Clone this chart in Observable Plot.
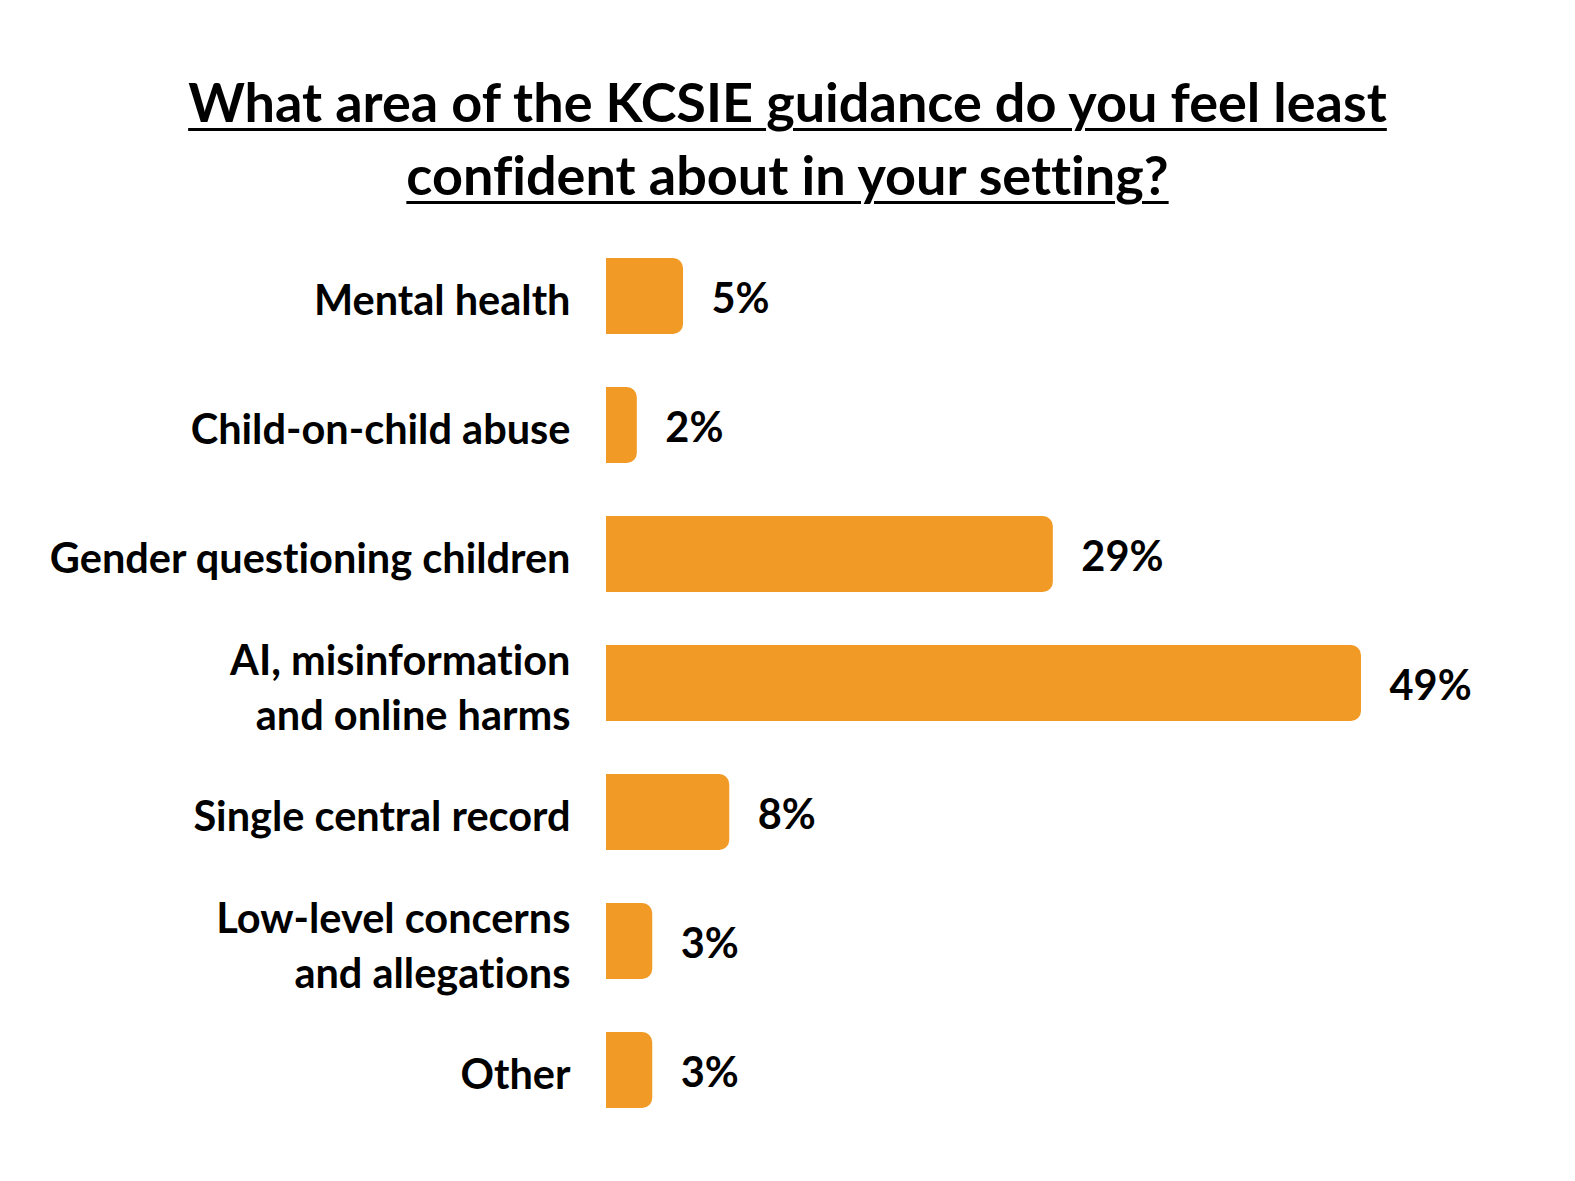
<!DOCTYPE html>
<html>
<head>
<meta charset="utf-8">
<script src="https://cdn.jsdelivr.net/npm/d3@7"></script>
<script src="https://cdn.jsdelivr.net/npm/@observablehq/plot@0.6"></script>
<style>
  html, body { margin: 0; padding: 0; background: #fff; }
  body { width: 1575px; font-family: Lato, "Open Sans", sans-serif; font-variant-ligatures: none; font-feature-settings: "liga" 0, "clig" 0; }
  #title {
    padding-top: 65px;
    text-align: center;
    font-size: 54px;
    line-height: 73px;
    font-weight: 700;
    color: #000;
    text-decoration: underline;
    text-decoration-thickness: 3px;
    text-underline-offset: 6px;
  }
  #chart svg { display: block; }
  #chart text { font-variant-ligatures: none; font-feature-settings: "liga" 0, "clig" 0; }
</style>
</head>
<body>
<div id="title">What area of the KCSIE guidance do you feel least<br>confident about in your setting?</div>
<div id="chart"></div>
<script>
const categories = [
  "Mental health",
  "Child-on-child abuse",
  "Gender questioning children",
  "AI, misinformation\nand online harms",
  "Single central record",
  "Low-level concerns\nand allegations",
  "Other"
];
const values = [5, 2, 29, 49, 8, 3, 3];

const data = categories.map((c, i) => ({category: c, value: values[i]}));
const orange = "#F19A25";

const chart = Plot.plot({
  width: 1575,
  height: 947,
  marginLeft: 606,
  marginRight: 214,
  marginTop: 19,
  marginBottom: 22,
  style: {fontFamily: "Lato, 'Open Sans', sans-serif", background: "#fff"},
  x: {domain: [0, 49], axis: null},
  y: {domain: categories, padding: 0.41, paddingOuter: 0.2, axis: null},
  marks: [
    Plot.barX(data, {y: "category", x1: d => 0, x2: "value", fill: orange, rx: 10}),
    Plot.barX(data, {y: "category", x1: d => 0, x2: d => d.value / 2, fill: orange}),
    Plot.text(data, {
      y: "category", text: "category", frameAnchor: "left", textAnchor: "end",
      dx: -36, dy: 1, fontSize: 41.5, fontWeight: 700, fill: "#000", lineHeight: 1.33
    }),
    Plot.text(data, {
      x: "value", y: "category", text: d => d.value + "%", textAnchor: "start",
      dx: 28, dy: 3, fontSize: 41.5, fontWeight: 700, fill: "#000"
    })
  ]
});
document.getElementById("chart").appendChild(chart);
</script>
</body>
</html>
